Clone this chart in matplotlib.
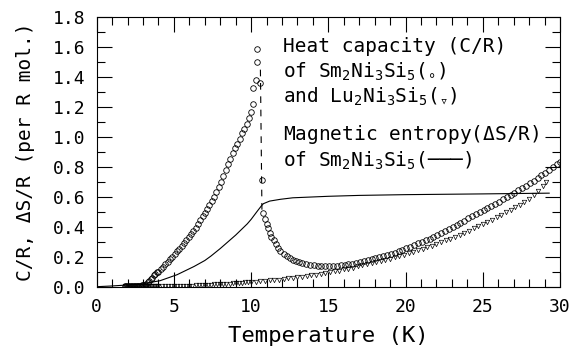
import numpy as np
import matplotlib
matplotlib.use("Agg")
import matplotlib.pyplot as plt
from matplotlib.ticker import MultipleLocator, FormatStrFormatter

plt.rcParams['font.family'] = ['DejaVu Sans Mono', 'DejaVu Sans']
plt.rcParams['mathtext.fontset'] = 'custom'
plt.rcParams['mathtext.rm'] = 'DejaVu Sans Mono'
plt.rcParams['mathtext.it'] = 'DejaVu Sans Mono'
plt.rcParams['mathtext.fallback'] = 'stix'

# Sm2Ni3Si5 heat capacity (C/R), open circles
t_sm = [1.8, 1.9, 2.0, 2.1, 2.2, 2.3, 2.4, 2.5, 2.6, 2.7, 2.8, 2.9, 3.0, 3.1, 3.2, 3.3, 3.4, 3.5, 3.6, 3.7, 3.8, 3.9,
        4.0, 4.15, 4.3, 4.45, 4.6, 4.75, 4.9, 5.05, 5.2, 5.35, 5.5, 5.65, 5.8, 5.95, 6.1, 6.25, 6.4, 6.55, 6.7, 6.85,
        7.0, 7.15, 7.3, 7.45, 7.6, 7.75, 7.9, 8.05, 8.2, 8.35, 8.5, 8.65, 8.8, 8.95, 9.1, 9.25, 9.4, 9.55, 9.7, 9.85,
        10.0, 10.15, 10.15, 10.3, 10.4, 10.4, 10.6,
        10.7, 10.8, 10.9, 11.0, 11.1, 11.2, 11.3, 11.45, 11.6, 11.75, 11.9, 12.1, 12.3, 12.5, 12.7, 12.9, 13.1, 13.3,
        13.55, 13.8, 14.05, 14.3, 14.55, 14.8, 15.05, 15.3, 15.55, 15.8, 16.05, 16.3, 16.55, 16.8, 17.05,
        17.3, 17.55, 17.8, 18.05, 18.3, 18.55, 18.8, 19.05, 19.3, 19.55,
        19.8, 20.05, 20.3, 20.55, 20.8, 21.05, 21.3, 21.55, 21.8, 22.05, 22.3, 22.55, 22.8, 23.05,
        23.3, 23.55, 23.8, 24.05, 24.3, 24.55, 24.8, 25.05, 25.3, 25.55, 25.8, 26.05, 26.3, 26.55,
        26.8, 27.05, 27.3, 27.55, 27.8, 28.05, 28.3, 28.55, 28.8, 29.05, 29.3, 29.55, 29.8, 30.0]
c_sm = [0.004, 0.004, 0.004, 0.004, 0.005, 0.005, 0.005, 0.006, 0.006, 0.007, 0.008, 0.009, 0.011, 0.014, 0.018,
        0.03, 0.04, 0.05, 0.06, 0.075, 0.088, 0.095,
        0.10, 0.115, 0.13, 0.15, 0.165, 0.185, 0.20, 0.22, 0.24, 0.255, 0.275, 0.295, 0.315, 0.335, 0.355, 0.375,
        0.395, 0.42, 0.445, 0.47, 0.495, 0.52, 0.545, 0.57, 0.60, 0.63, 0.665, 0.70, 0.74, 0.78, 0.82, 0.855, 0.89,
        0.925, 0.955, 0.99, 1.025, 1.055, 1.09, 1.13,
        1.17, 1.22, 1.33, 1.38, 1.50, 1.59, 1.36,
        0.71, 0.49, 0.45, 0.42, 0.39, 0.36, 0.335, 0.31, 0.285, 0.26, 0.24, 0.22, 0.205, 0.19, 0.18, 0.17, 0.162,
        0.156,
        0.15, 0.146, 0.143, 0.141, 0.14, 0.14, 0.14, 0.14, 0.141, 0.143, 0.146, 0.15, 0.155, 0.16, 0.166,
        0.172, 0.178, 0.184, 0.191, 0.198, 0.205, 0.212, 0.22, 0.228, 0.236,
        0.244, 0.256, 0.267, 0.278, 0.289, 0.30, 0.311, 0.322, 0.334, 0.347, 0.36, 0.373, 0.386, 0.40,
        0.414, 0.428, 0.442, 0.456, 0.47, 0.484, 0.498, 0.512, 0.526, 0.54, 0.554, 0.568, 0.583, 0.598,
        0.613, 0.628, 0.644, 0.66, 0.676, 0.692, 0.709, 0.726, 0.743, 0.76, 0.779, 0.798, 0.817, 0.835]

# Lu2Ni3Si5 heat capacity (C/R), open down-triangles
t_lu = [1.8, 1.9, 2.0, 2.1, 2.2, 2.3, 2.4, 2.5, 2.6, 2.7, 2.8, 2.9, 3.0, 3.1, 3.2, 3.3, 3.4, 3.5, 3.6, 3.7, 3.8,
        3.9, 4.0, 4.2, 4.4, 4.6, 4.8, 5.0, 5.2, 5.4, 5.6, 5.8,
        6.0, 6.2, 6.4, 6.6, 6.8, 7.0, 7.2, 7.4, 7.6, 7.8, 8.0, 8.2, 8.4, 8.6, 8.8, 9.0, 9.2, 9.4, 9.6, 9.8, 10.0,
        10.3, 10.6, 10.9, 11.2, 11.5, 11.8, 12.1, 12.4, 12.7, 13.0, 13.3, 13.6, 13.9, 14.2, 14.5, 14.8, 15.1, 15.4,
        15.7, 16.0, 16.3, 16.6, 16.9, 17.2, 17.5, 17.8, 18.1, 18.4, 18.7, 19.0, 19.3, 19.6, 19.9, 20.2, 20.5, 20.8,
        21.1, 21.4, 21.7, 22.0, 22.3, 22.6, 22.9, 23.2, 23.5, 23.8, 24.1, 24.4, 24.7, 25.0, 25.3, 25.6, 25.9, 26.2,
        26.5, 26.8, 27.1, 27.4, 27.7, 28.0, 28.3, 28.6, 28.9, 29.1]
c_lu = [0.002, 0.002, 0.002, 0.002, 0.002, 0.002, 0.002, 0.002, 0.002, 0.002, 0.002, 0.002, 0.002, 0.002, 0.002,
        0.002, 0.003, 0.003, 0.003, 0.003, 0.003, 0.003, 0.003, 0.004, 0.004, 0.004,
        0.005, 0.005, 0.005, 0.006, 0.006, 0.007, 0.008, 0.008, 0.009, 0.010, 0.011, 0.012, 0.013, 0.014, 0.015,
        0.016, 0.018, 0.019, 0.020, 0.021, 0.023, 0.024, 0.026, 0.027, 0.029, 0.030, 0.032,
        0.034, 0.037, 0.040, 0.042, 0.045, 0.048, 0.051, 0.055, 0.058, 0.062, 0.066, 0.070, 0.075, 0.080, 0.085,
        0.091, 0.097, 0.103, 0.108, 0.115, 0.121, 0.128, 0.135, 0.142, 0.15, 0.157, 0.165, 0.172, 0.18, 0.188, 0.197,
        0.205, 0.214, 0.223, 0.233, 0.243, 0.253, 0.264, 0.275, 0.286, 0.298, 0.31, 0.322, 0.335, 0.348, 0.361,
        0.375, 0.389, 0.403, 0.418, 0.433, 0.448, 0.464, 0.48, 0.497, 0.514, 0.531, 0.549, 0.567, 0.586,
        0.61, 0.64, 0.675, 0.70]

# magnetic entropy dS/R of Sm2Ni3Si5, solid line
t_ent = [0.0, 1.0, 1.75, 3.0, 4.1, 5.2, 5.9, 6.3, 7.0, 7.4, 8.0, 8.5, 9.0, 9.5, 9.75, 10.0, 10.4, 10.7, 10.8,
         11.2, 11.9, 12.7, 15.0, 17.0, 20.0, 25.0, 29.3]
s_ent = [0.0, 0.005, 0.01, 0.02, 0.04, 0.08, 0.115, 0.135, 0.175, 0.205, 0.255, 0.30, 0.345, 0.395, 0.42, 0.45,
         0.505, 0.545, 0.555, 0.572, 0.584, 0.594, 0.604, 0.61, 0.615, 0.62, 0.625]

# jump across the transition (dashed)
t_jump = [10.6, 10.7]
c_jump = [1.45, 0.50]

fig = plt.figure(figsize=(5.73, 3.60), dpi=100)
ax = fig.add_axes([0.1688, 0.2036, 0.9773 - 0.1688, 0.952 - 0.2036])

ax.plot(t_ent, s_ent, '-', color='black', lw=0.8)
ax.plot(t_jump, c_jump, color='black', lw=0.8, dashes=(6, 6))
ax.plot(t_lu, c_lu, linestyle='none', marker='v', ms=3.2, mfc='none', mec='black', mew=0.5)
ax.plot(t_sm, c_sm, linestyle='none', marker='o', ms=4.0, mfc='none', mec='black', mew=0.6)

ax.set_xlim(0, 30)
ax.set_ylim(0, 1.8)
ax.xaxis.set_major_locator(MultipleLocator(5))
ax.xaxis.set_minor_locator(MultipleLocator(1))
ax.yaxis.set_major_locator(MultipleLocator(0.2))
ax.yaxis.set_minor_locator(MultipleLocator(0.1))
ax.yaxis.set_major_formatter(FormatStrFormatter('%.1f'))
ax.tick_params(which='both', direction='in', top=True, right=True, width=0.8)
ax.tick_params(which='major', length=10.5, labelsize=13)
ax.tick_params(which='minor', length=5.5)
ax.tick_params(axis='x', which='major', pad=8)
ax.tick_params(axis='y', which='major', pad=8)
for sp in ax.spines.values():
    sp.set_linewidth(0.8)

ax.set_xlabel('Temperature (K)', fontsize=16, labelpad=7)
ax.set_ylabel('C/R, ΔS/R (per R mol.)', fontsize=14, labelpad=13)

legend_lines = [
    (1.569, 'Heat capacity (C/R)'),
    (1.395, r'of Sm$_2$Ni$_3$Si$_5$($_{\circ}$)'),
    (1.232, r'and Lu$_2$Ni$_3$Si$_5$($_{\triangledown}$)'),
    (0.982, r'Magnetic entropy($\Delta$S/R)'),
    (0.803, r'of Sm$_2$Ni$_3$Si$_5$(───)'),
]
for y, s in legend_lines:
    ax.text(12.05, y, s, fontsize=14, va='baseline', ha='left')

fig.savefig('out.png', dpi=100)
